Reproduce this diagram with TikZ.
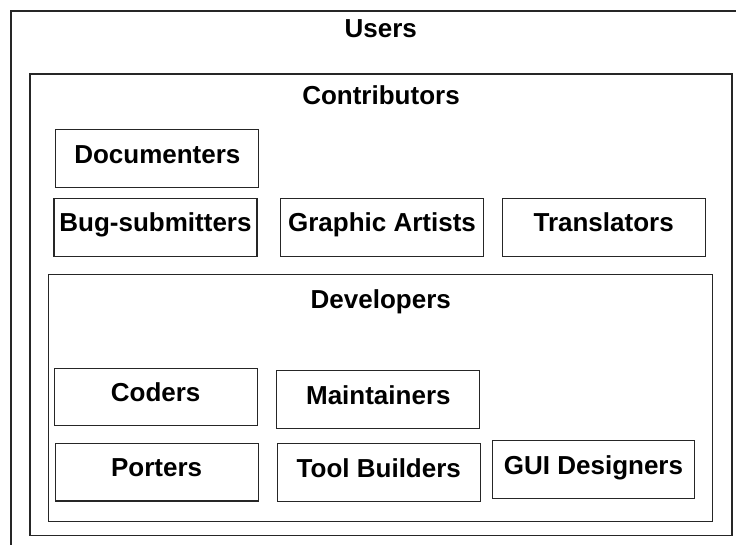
\documentclass[tikz,border=0pt]{standalone}
\usepackage{fontspec}
\setmainfont{Liberation Sans}
\begin{document}
\begin{tikzpicture}[x=1pt,y=-1pt,
  every node/.style={font=\fontsize{26}{30}\selectfont\bfseries},
  frame/.style={draw=black!85,line width=1.1pt,rectangle,inner sep=0pt},
  rolebox/.style={frame,minimum width=203pt,minimum height=57.5pt,
    text height=18.6pt,text depth=9.4pt},
  title/.style={anchor=base,inner sep=0pt}]
\useasboundingbox (0,0) rectangle (736,544);
\clip (0,0) rectangle (736,544);
% containers
\node[frame,minimum width=750pt,minimum height=550pt] (users) at (386,286) {};
\node[frame,minimum width=702pt,minimum height=461.7pt] (contrib) at (381,304.85) {};
\node[frame,minimum width=664.4pt,minimum height=247pt] (devs) at (380.5,398.2) {};
% titles
\node[title] (tusers) at (380.7,37.3) {Users};
\node[title] (tcontrib) at (381,104.3) {Contributors};
\node[title] (tdevs) at (380.8,308.3) {Developers};
% contributor roles
\node[rolebox] (doc) at (157.35,158.5) {Documenters};
\node[rolebox] (bug) at (155.5,227.35) {Bug-submitters};
\node[rolebox] (gfx) at (382,227.35) {Graphic Artists};
\node[rolebox] (trans) at (603.65,227.35) {Translators};
% developer roles
\node[rolebox] (coders) at (155.65,396.85) {Coders};
\node[rolebox] (maint) at (378.35,399.5) {Maintainers};
\node[rolebox] (porters) at (156.65,472.2) {Porters};
\node[rolebox] (tools) at (378.8,472.5) {Tool Builders};
\node[rolebox,minimum width=202.4pt] (gui) at (593.5,469.5) {GUI Designers};
\end{tikzpicture}
\end{document}
